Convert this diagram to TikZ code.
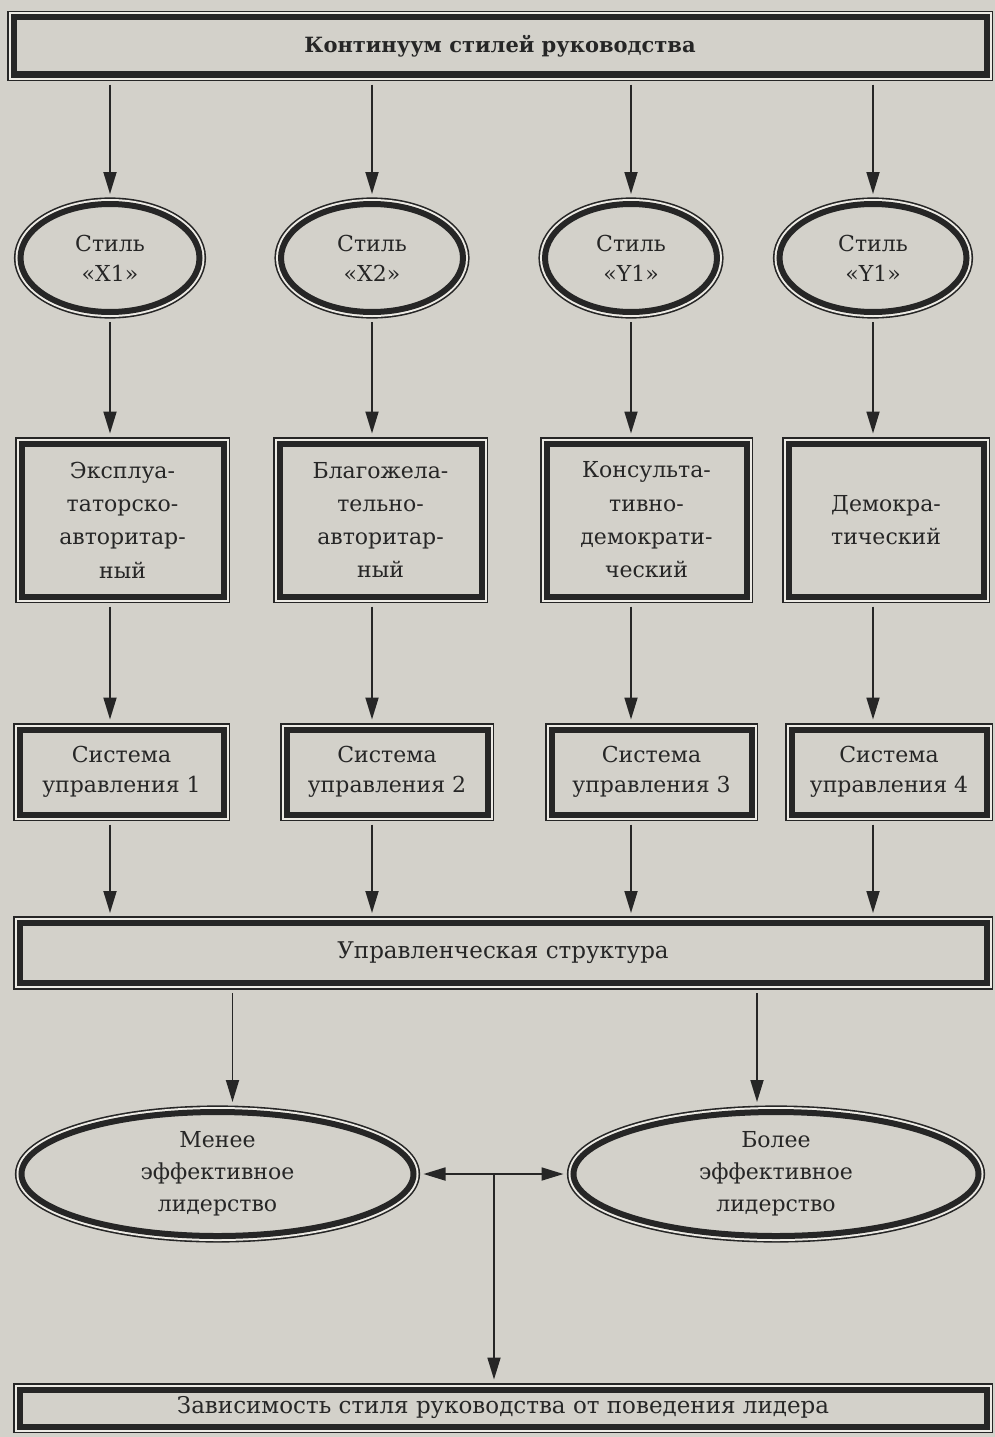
\documentclass[tikz,border=0pt]{standalone}
\usepackage{fontspec}
\setmainfont{DejaVu Serif}
\usetikzlibrary{shapes.geometric,arrows.meta}

\definecolor{paper}{HTML}{D3D1CA}
\definecolor{gapc}{HTML}{EDEBE5}
\definecolor{ink}{HTML}{262626}

\tikzset{
  % thick inner line, light gap, thin outer line
  frame/.style={draw=ink, line width=6pt, fill=paper, text=ink,
    inner sep=0pt, align=center,
    preaction={draw=ink, line width=13.2pt},
    preaction={draw=gapc, line width=10pt}},
  boxnode/.style={frame, rectangle},
  ovalnode/.style={frame, ellipse},
  tall/.style={font=\fontsize{22}{33.3}\selectfont},
  plain/.style={font=\fontsize{22}{30}\selectfont},
  wide/.style={font=\fontsize{23}{30}\selectfont},
  arr/.style={draw=ink, line width=1.8pt,
    -{Triangle[length=22pt,width=13pt]}, shorten <=7pt, shorten >=7pt},
  dblarr/.style={draw=ink, line width=1.8pt,
    {Triangle[length=22pt,width=13pt]}-{Triangle[length=22pt,width=13pt]},
    shorten <=7pt, shorten >=7pt}
}

\begin{document}
\begin{tikzpicture}[x=1pt,y=-1pt]
\useasboundingbox (0,0) rectangle (995,1437);
\fill[paper] (0,0) rectangle (995,1437);

% top heading
\node[boxnode, minimum width=973pt, minimum height=57pt,
  font=\bfseries\fontsize{21}{26}\selectfont] (top) at (500,46)
  {Континуум стилей руководства};

% styles
\node[ovalnode, plain, minimum width=179pt, minimum height=108pt] (s1) at (110,258) {Стиль\\«X1»};
\node[ovalnode, plain, minimum width=182pt, minimum height=108pt] (s2) at (372,258) {Стиль\\«X2»};
\node[ovalnode, plain, minimum width=172pt, minimum height=108pt] (s3) at (631,258) {Стиль\\«Y1»};
\node[ovalnode, plain, minimum width=187pt, minimum height=108pt] (s4) at (873,258) {Стиль\\«Y1»};

% kinds of leadership
\node[boxnode, tall, minimum width=202pt, minimum height=153pt] (k1) at (122.5,520)
  {Эксплуа-\\таторско-\\авторитар-\\ный};
\node[boxnode, tall, minimum width=202pt, minimum height=153pt] (k2) at (380.5,520)
  {Благожела-\\тельно-\\авторитар-\\ный};
\node[boxnode, tall, minimum width=200pt, minimum height=153pt] (k3) at (646.5,520)
  {Консульта-\\тивно-\\демократи-\\ческий};
\node[boxnode, tall, minimum width=195pt, minimum height=153pt] (k4) at (886,520)
  {Демокра-\\тический};

% management systems
\node[boxnode, plain, minimum width=204pt, minimum height=85pt] (m1) at (121.5,772) {Система\\управления 1};
\node[boxnode, plain, minimum width=201pt, minimum height=85pt] (m2) at (387,772) {Система\\управления 2};
\node[boxnode, plain, minimum width=200pt, minimum height=85pt] (m3) at (651.5,772) {Система\\управления 3};
\node[boxnode, plain, minimum width=195pt, minimum height=85pt] (m4) at (889,772) {Система\\управления 4};

% structure
\node[boxnode, wide, minimum width=967pt, minimum height=60pt] (u) at (503,953) {Управленческая структура};

% effectiveness
\node[ovalnode, font=\fontsize{22}{32}\selectfont, minimum width=392pt, minimum height=124pt] (lo) at (217.5,1174)
  {Менее\\эффективное\\лидерство};
\node[ovalnode, font=\fontsize{22}{32}\selectfont, minimum width=405pt, minimum height=124pt] (hi) at (776,1174)
  {Более\\эффективное\\лидерство};

% result
\node[boxnode, wide, minimum width=967pt, minimum height=37pt] (z) at (503,1408)
  {Зависимость стиля руководства от поведения лидера};

% connectors
\foreach \i in {1,2,3,4}{
  \draw[arr] (top.south -| s\i.north) -- (s\i.north);
  \draw[arr] (s\i.south) -- (s\i.south |- k\i.north);
  \draw[arr] (s\i.south |- k\i.south) -- (s\i.south |- m\i.north);
  \draw[arr] (s\i.south |- m\i.south) -- (s\i.south |- u.north);
}
\draw[arr] ([xshift=15pt]lo.north |- u.south) -- ([xshift=15pt]lo.north);
\draw[arr] ([xshift=-19pt]hi.north |- u.south) -- ([xshift=-19pt]hi.north);
\draw[dblarr] (lo.east) -- (hi.west);
\coordinate (j) at (494,1174);
\draw[arr, shorten <=0pt] (j) -- (j |- z.north);
\end{tikzpicture}
\end{document}
